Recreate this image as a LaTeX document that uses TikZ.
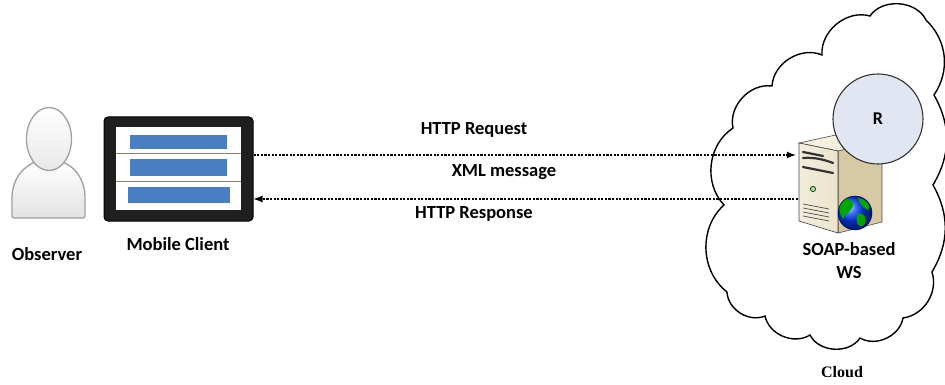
\documentclass[tikz,border=0pt]{standalone}
\usepackage{fontspec}
\setmainfont{Carlito}
\newfontfamily\cloudserif{Liberation Serif}
\usetikzlibrary{arrows.meta}

\definecolor{barblue}{HTML}{4A7EC2}
\definecolor{rlav}{HTML}{E2E6F3}
\definecolor{beigefront}{HTML}{ECE4CC}
\definecolor{beigeside}{HTML}{D6C9A4}
\definecolor{beigetop}{HTML}{F5F0DF}
\definecolor{sepline}{HTML}{8C7F6E}

\begin{document}
\begin{tikzpicture}[x=1pt,y=-1pt,
  lbl/.style={font=\bfseries\fontsize{18.5}{23}\selectfont, inner sep=0pt},
  msg/.style={draw=black, line width=1.1pt, dash pattern=on 2.2pt off 1.4pt},
  tip/.style={-{Latex[length=9pt,width=7pt]}},
  slot/.style={line width=2.2pt, black!80, line cap=round}]
\useasboundingbox (0,0) rectangle (945,385);

% ---------- observer ----------
\coordinate (observer) at (48,165);
\draw[gray!75, line width=1.3pt, top color=white, bottom color=gray!22, rounded corners=2pt]
  (12,218) -- (12,200) .. controls (12,177) and (26,164) .. (40,161)
  -- (58,161) .. controls (72,164) and (85,177) .. (85,200) -- (85,218) -- cycle;
\draw[gray!75, line width=1.3pt, top color=white, bottom color=gray!18]
  (49,139) ellipse [x radius=22.5, y radius=31.5];
\node[lbl] (obslabel) at (47,254) {Observer};

% ---------- mobile client (tablet) ----------
\node[draw=black, fill=black!88, rounded corners=4pt, line width=1pt,
      minimum width=149pt, minimum height=104pt, inner sep=0pt] (client) at (178.5,169) {};
\fill[white] (116,127) rectangle (241,210);
\draw[sepline, line width=1pt] (116,154) -- (241,154) (116,181) -- (241,181);
\fill[barblue] (130,135) rectangle (227,149);
\fill[barblue] (130,159) rectangle (227,176);
\fill[barblue] (128,187) rectangle (230,203);
\node[lbl] (clientlabel) at (178,244) {Mobile Client};

% ---------- cloud ----------
\draw[line width=1.4pt]
  (727,292) to[bend left=50] (724,205) to[bend left=50] (733,128)
  to[bend left=55] (772,86) to[bend left=55] (822,55) to[bend left=55] (870,16)
  to[bend left=60] (926,20) to[bend left=40] (934,95) to[bend left=30] (933,185)
  to[bend left=30] (932,272) to[bend left=50] (903,318) to[bend left=55] (860,338)
  to[bend left=60] (810,335) to[bend left=55] (765,316) to[bend left=55] (727,292);
\node[font=\cloudserif\bfseries\fontsize{16}{18}\selectfont, inner sep=0pt] (cloudlabel) at (842,372) {Cloud};

% ---------- server tower ----------
\node[minimum width=84pt, minimum height=100pt, inner sep=0pt] (server) at (840,185) {};
\filldraw[draw=black!70, line width=0.6pt, fill=beigeside]
  (838,151) -- (882,140) -- (882,222) -- (838,233) -- cycle;
\filldraw[draw=black!70, line width=0.6pt, fill=beigetop]
  (799,143) -- (838,151) -- (882,140) -- (845,133) -- cycle;
\filldraw[draw=black!70, line width=0.6pt, left color=beigefront!70!white, right color=beigefront]
  (799,143) -- (838,151) -- (838,233) -- (799,221) -- cycle;
\draw[slot] (803,152) -- (823,156);
\draw[slot] (803,158) .. controls (815,157) and (825,160) .. (833,163);
\draw[slot] (803,167) -- (833,173);
\draw[green!40!black, line width=0.9pt, fill=gray!40] (813,189) circle (2.6);
\foreach \k in {0,1,2,3}
  \draw[black!70, line width=0.7pt] (803,{204+4*\k}) -- (829,{209+4*\k});
% globe
\shade[ball color=blue!75!cyan] (855,213) circle (17);
\begin{scope}
  \clip (855,213) circle (17);
  \fill[green!65!black] (842,200) .. controls (850,197) and (856,202) .. (852,208)
    .. controls (849,214) and (845,213) .. (843,219) .. controls (839,214) and (838,205) .. cycle;
  \fill[green!65!black] (858,198) .. controls (866,199) and (871,205) .. (869,210)
    .. controls (864,209) and (860,206) .. cycle;
  \fill[green!65!black] (857,214) .. controls (864,212) and (868,218) .. (864,225)
    .. controls (860,229) and (855,224) .. cycle;
\end{scope}
\draw[blue!40!black, line width=0.5pt] (855,213) circle (17);

% ---------- resource ----------
\node[circle, draw=black!80, line width=1.1pt, fill=rlav, minimum size=90pt,
      font=\bfseries\fontsize{18}{20}\selectfont] (R) at (878,119) {R};
\node[lbl, align=center] (wslabel) at (849,261) {SOAP-based\\WS};

% ---------- messages ----------
\coordinate (reqy) at (0,155);
\coordinate (resy) at (0,199);
\draw[msg, tip] (client.east |- reqy) -- ([xshift=-2pt]server.west |- reqy);
\draw[msg, tip] (server.west |- resy) -- (client.east |- resy);
\node[lbl] (reqlabel) at (474,130) {HTTP Request};
\node[lbl] (xmllabel) at (504,172) {XML message};
\node[lbl] (reslabel) at (474,214) {HTTP Response};
\end{tikzpicture}
\end{document}
